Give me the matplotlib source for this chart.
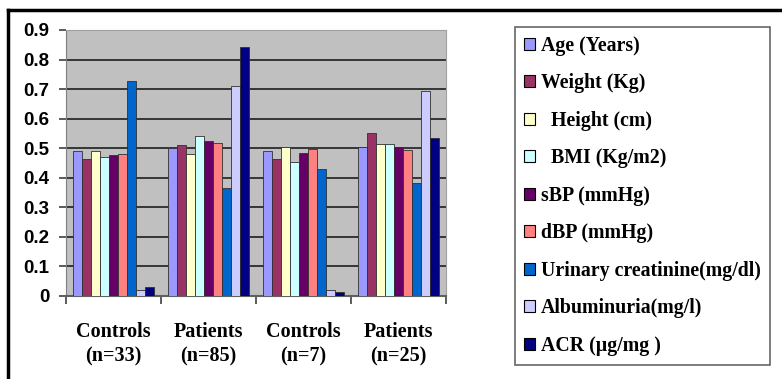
import numpy as np
import matplotlib.pyplot as plt
from matplotlib.lines import Line2D

# groups on the x axis
groups = ["Controls\n(n=33)", "Patients\n(n=85)", "Controls\n(n=7)", "Patients\n(n=25)"]

# series
series = ["Age (Years)", "Weight (Kg)", "  Height (cm)", "  BMI (Kg/m2)", "sBP (mmHg)",
          "dBP (mmHg)", "Urinary creatinine(mg/dl)", "Albuminuria(mg/l)", "ACR (\u00b5g/mg )"]
age = [0.49, 0.50, 0.49, 0.503]
weight = [0.463, 0.51, 0.465, 0.553]
height = [0.49, 0.48, 0.503, 0.515]
bmi = [0.47, 0.54, 0.453, 0.515]
sbp = [0.478, 0.525, 0.485, 0.503]
dbp = [0.48, 0.518, 0.497, 0.495]
creat = [0.728, 0.367, 0.428, 0.383]
albu = [0.02, 0.71, 0.02, 0.695]
acr = [0.03, 0.843, 0.015, 0.533]
values = [age, weight, height, bmi, sbp, dbp, creat, albu, acr]

colors = ["#9999FF", "#993366", "#FFFFCC", "#CCFFFF", "#660066",
          "#FF8080", "#0066CC", "#CCCCFF", "#000080"]

fig = plt.figure(figsize=(7.82, 3.79), dpi=100)
ax = fig.add_axes([0.0844, 0.219, 0.4856, 0.702])
ax.set_facecolor("#C0C0C0")

x = np.arange(len(groups))
w = 0.095
for i, (vals, c) in enumerate(zip(values, colors)):
    ax.bar(x + (i - 4) * w, vals, w, color=c, edgecolor="#303030", linewidth=0.6,
           label=series[i], zorder=3)

ax.set_xlim(-0.5, 3.5)
ax.set_ylim(0, 0.9)
ax.set_yticks(np.arange(0, 0.91, 0.1))
ax.set_yticklabels(["0"] + ["%.1f" % v for v in np.arange(0.1, 0.91, 0.1)],
                   fontfamily="Liberation Sans", fontweight="bold", fontsize=13.5)
ax.yaxis.grid(True, color="#101010", linewidth=1.1, zorder=1)
ax.set_axisbelow(True)

ax.set_xticks(x)
ax.set_xticklabels(groups, fontfamily="Liberation Serif", fontweight="bold",
                   fontsize=14.5, linespacing=1.25)
ax.set_xticks(np.arange(-0.5, 3.6, 1), minor=True)
ax.tick_params(axis="x", which="major", length=0, pad=19)
ax.tick_params(axis="x", which="minor", length=6, width=1.2, color="#404040")
ax.tick_params(axis="y", length=5, width=1.2, color="#404040", pad=7)

for s in ["top", "right"]:
    ax.spines[s].set_color("#A0A0A0")
ax.spines["left"].set_color("#808080")
ax.spines["bottom"].set_color("#606060")
ax.spines["bottom"].set_linewidth(1.5)

leg = fig.legend(loc="upper left", bbox_to_anchor=(515 / 782, 1 - 27 / 379),
                 frameon=True, fancybox=False, edgecolor="#404040",
                 prop={"family": "Liberation Serif", "weight": "bold", "size": 14.3},
                 handlelength=0.55, handleheight=0.55, handletextpad=0.3,
                 labelspacing=0.88, borderpad=0.45, borderaxespad=0)
leg.get_frame().set_linewidth(1.2)
for h in leg.legend_handles:
    h.set_edgecolor("black")
    h.set_linewidth(0.8)

# page border lines (top and left)
fig.add_artist(Line2D([8 / 782, 1], [1 - 10 / 379, 1 - 10 / 379], color="black",
                      linewidth=2.5, transform=fig.transFigure))
fig.add_artist(Line2D([8 / 782, 8 / 782], [0, 1 - 10 / 379], color="black",
                      linewidth=2.5, transform=fig.transFigure))

fig.savefig("out.png", dpi=100)
plt.close()
